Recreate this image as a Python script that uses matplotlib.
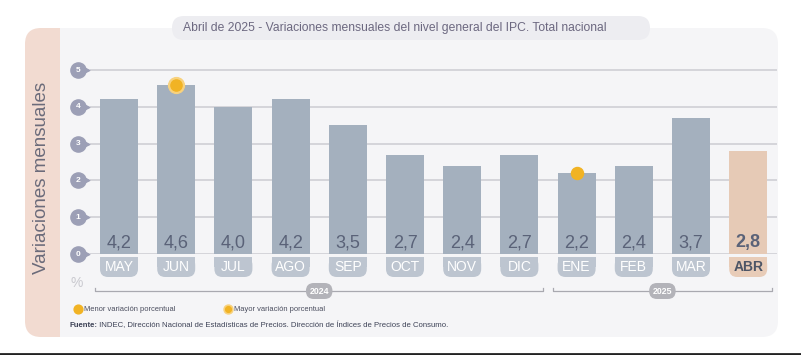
import matplotlib
matplotlib.use("Agg")
import matplotlib.pyplot as plt
from matplotlib.patches import FancyBboxPatch, Rectangle

plt.rcParams['font.family'] = ['Liberation Sans', 'DejaVu Sans']

# data
months = ['MAY', 'JUN', 'JUL', 'AGO', 'SEP', 'OCT', 'NOV', 'DIC', 'ENE', 'FEB', 'MAR', 'ABR']
values = [4.2, 4.6, 4.0, 4.2, 3.5, 2.7, 2.4, 2.7, 2.2, 2.4, 3.7, 2.8]
value_labels = ['4,2', '4,6', '4,0', '4,2', '3,5', '2,7', '2,4', '2,7', '2,2', '2,4', '3,7', '2,8']
years = ['2024', '2025']
year_spans = [(0, 7), (8, 11)]
y_ticks = [0, 1, 2, 3, 4, 5]
max_idx = 1   # mayor variacion
min_idx = 8   # menor variacion

title = 'Abril de 2025 - Variaciones mensuales del nivel general del IPC. Total nacional'
ylabel = 'Variaciones mensuales'
source = 'INDEC, Dirección Nacional de Estadísticas de Precios. Dirección de Índices de Precios de Consumo.'

bar_col = '#a4b0be'
hl_col = '#e6cab6'
pill_col = '#bdc5d0'
txt_col = '#5a6278'
grid_col = '#d2d2d7'
badge_col = '#9c9fb6'
orange = '#f1b324'
ring = '#f8d27e'

W, H = 801, 355
fig = plt.figure(figsize=(W / 100, H / 100), dpi=100)
fig.patch.set_facecolor('white')

# background in pixel coords
bg = fig.add_axes([0, 0, 1, 1], zorder=0)
bg.set_xlim(0, W)
bg.set_ylim(H, 0)
bg.axis('off')

bg.add_patch(FancyBboxPatch((25, 28), 60, 309, boxstyle='round,pad=0,rounding_size=16',
                            fc='#f2dbd1', ec='none'))
bg.add_patch(Rectangle((60, 28), 600, 309, fc='#f5f5f7', ec='none'))
bg.add_patch(FancyBboxPatch((120, 28), 658, 309, boxstyle='round,pad=0,rounding_size=16',
                            fc='#f5f5f7', ec='none'))
bg.add_patch(FancyBboxPatch((172, 16), 478, 24, boxstyle='round,pad=0,rounding_size=12',
                            fc='#ededf1', ec='none'))
bg.text(395, 28.5, title, ha='center', va='center', fontsize=8.7, color='#6c6880')
bg.text(42, 178, ylabel, rotation=90, ha='center', va='center', fontsize=13.5, color='#6b6b7a')
bg.plot([0, W], [353.5, 353.5], color='#222222', lw=2)

# legend
bg.scatter([78], [309], s=40, color=orange, zorder=3)
bg.text(84, 309.5, 'Menor variación porcentual', fontsize=5.4, color='#4a4d5e', va='center')
bg.scatter([228], [309], s=42, color=ring, zorder=3)
bg.scatter([228], [309], s=17, color=orange, zorder=4)
bg.text(234, 309.5, 'Mayor variación porcentual', fontsize=5.4, color='#4a4d5e', va='center')

t = bg.text(69, 325.5, 'Fuente:', fontsize=5.6, color='#3d4256', fontweight='bold', va='center')
bg.annotate(' ' + source, xy=(1, 0.5), xycoords=t, va='center', fontsize=5.6, color='#3d4256')

# main chart
px_x = 57.2   # pixels per category
px_y = 36.8   # pixels per unit
x0, x1 = -0.507, 11.50
y0, y1 = 0, 5.3
left = 90 / W
bottom = (H - 254) / H
ax = fig.add_axes([left, bottom, (x1 - x0) * px_x / W, (y1 - y0) * px_y / H], zorder=1)
ax.set_xlim(x0, x1)
ax.set_ylim(y0, y1)
ax.patch.set_alpha(0)
for s in ax.spines.values():
    s.set_visible(False)
ax.set_xticks([])
ax.set_yticks([])

xs = list(range(len(months)))
colors = [hl_col if m == 'ABR' else bar_col for m in months]
bw = 38 / px_x
ax.bar(xs, values, width=bw, color=colors, zorder=2)

for v in y_ticks:
    ax.axhline(v, color=grid_col, lw=1.3, zorder=1)
    bx = x0 - 12 / px_x
    ax.scatter([bx + 6.5 / px_x], [v], marker='>', s=38, color=badge_col, clip_on=False, zorder=3)
    ax.scatter([bx], [v], s=120, color=badge_col, clip_on=False, zorder=4)
    ax.text(bx, v, str(v), ha='center', va='center', fontsize=6, color='white',
            fontweight='bold', zorder=5, clip_on=False)

aspect = (1 / px_y) / (1 / px_x)
for i, (m, lab) in enumerate(zip(months, value_labels)):
    hl = m == 'ABR'
    ax.text(i, 11 / px_y, lab, ha='center', va='center', fontsize=13, color=txt_col,
            fontweight='bold' if hl else 'normal', zorder=3)
    pc = '#e8ccb8' if hl else pill_col
    ptop = -3 / px_y
    pbot = -23 / px_y
    ax.add_patch(FancyBboxPatch((i - bw / 2, pbot), bw, ptop - pbot,
                                boxstyle='round,pad=0,rounding_size=%f' % (8 / px_x),
                                mutation_aspect=aspect, fc=pc, ec='none', clip_on=False, zorder=2))
    ax.add_patch(Rectangle((i - bw / 2, (ptop + pbot) / 2), bw, ptop - (ptop + pbot) / 2,
                           fc=pc, ec='none', clip_on=False, zorder=2))
    ax.text(i, (ptop + pbot) / 2, m, ha='center', va='center', fontsize=10,
            color='#4d5566' if hl else 'white', fontweight='bold' if hl else 'normal',
            zorder=3, clip_on=False)

ax.text(x0 - 13 / px_x, -29 / px_y, '%', ha='center', va='center', fontsize=10,
        color='#c9c9cf', clip_on=False)

# year brackets
yb = -37 / px_y
tick = 3 / px_y
for yr, (a, b) in zip(years, year_spans):
    xa = a - bw / 2 - 5 / px_x
    xb = b + bw / 2 + 5 / px_x
    ax.plot([xa, xa, xb, xb], [yb + tick, yb, yb, yb + tick], color='#a9a9b0', lw=0.9,
            clip_on=False, zorder=2)
    ax.text((xa + xb) / 2, yb, yr, ha='center', va='center', fontsize=6.3, color='white',
            fontweight='bold', clip_on=False, zorder=3,
            bbox=dict(boxstyle='round,pad=0.4,rounding_size=0.9', fc='#b3b3b9', ec='none'))

# markers
ax.scatter([max_idx], [values[max_idx]], s=130, color=ring, zorder=4, clip_on=False)
ax.scatter([max_idx], [values[max_idx]], s=65, color=orange, zorder=5, clip_on=False)
ax.scatter([min_idx], [values[min_idx]], s=75, color=orange, zorder=4, clip_on=False)

fig.savefig('out.png', dpi=100, facecolor='white')
